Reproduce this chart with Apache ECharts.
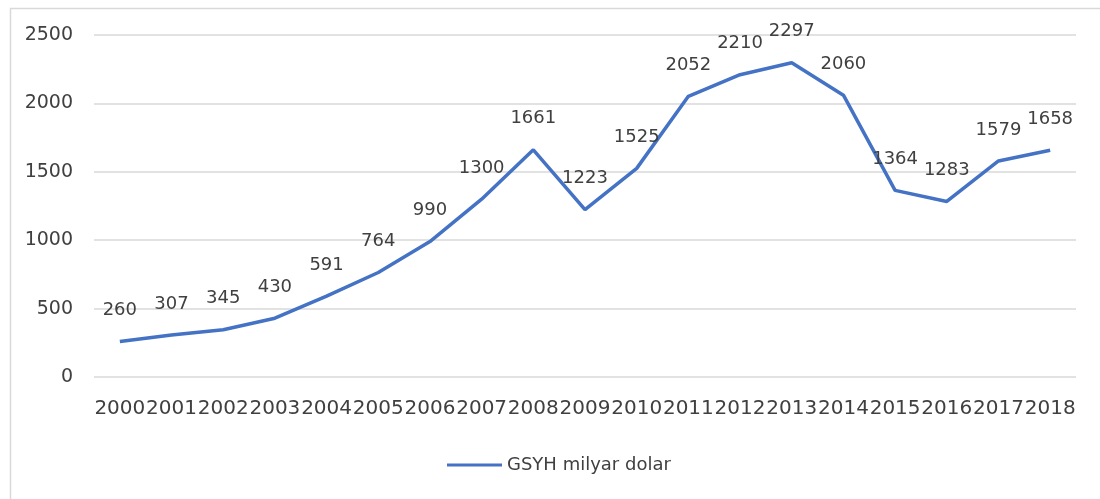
<!DOCTYPE html>
<html>
<head>
<meta charset="utf-8">
<script src="https://cdn.jsdelivr.net/npm/echarts@6/dist/echarts.min.js"></script>
<style>html,body{margin:0;padding:0;background:#fff}#c{width:1100px;height:499px}</style>
</head>
<body>
<div id="c"></div>
<script>
const categories = ['2000','2001','2002','2003','2004','2005','2006','2007','2008','2009','2010','2011','2012','2013','2014','2015','2016','2017','2018'];
const gsyh = [260,307,345,430,591,764,990,1300,1661,1223,1525,2052,2210,2297,2060,1364,1283,1579,1658];
const yTicks = [0,500,1000,1500,2000,2500];

const chart = echarts.init(document.getElementById('c'));
chart.setOption({
  animation: false,
  backgroundColor: '#fff',
  graphic: [{
    type: 'rect', left: 8, top: 6,
    shape: {width: 1100, height: 492},
    style: {fill: 'none', stroke: '#d9d9d9', lineWidth: 1.5},
    silent: true
  }],
  grid: {left: 94, right: 24, top: 35, bottom: 122, containLabel: false},
  legend: {
    left: 442, top: 451,
    itemWidth: 55, itemHeight: 3, itemGap: 6,
    icon: 'rect',
    textStyle: {fontFamily: 'DejaVu Sans', fontSize: 18, color: '#404040'},
    data: ['GSYH milyar dolar']
  },
  xAxis: {
    type: 'category',
    data: categories,
    boundaryGap: true,
    axisLine: {show: false},
    axisTick: {show: false},
    axisLabel: {interval: 0, margin: 22, fontFamily: 'DejaVu Sans', fontSize: 20, color: '#404040'}
  },
  yAxis: {
    type: 'value',
    min: yTicks[0], max: yTicks[yTicks.length-1], interval: 500,
    axisLine: {show: false},
    axisTick: {show: false},
    splitLine: {lineStyle: {color: '#d9d9d9', width: 1.5}},
    axisLabel: {margin: 21, fontFamily: 'DejaVu Sans', fontSize: 19, color: '#404040', formatter: v => String(v)}
  },
  series: [{
    name: 'GSYH milyar dolar',
    type: 'line',
    data: gsyh,
    showSymbol: true,
    symbol: 'circle',
    symbolSize: 0.1,
    lineStyle: {color: '#4472C4', width: 3.5},
    itemStyle: {color: '#4472C4'},
    label: {show: true, position: 'top', distance: 22, fontFamily: 'DejaVu Sans', fontSize: 18, color: '#404040'}
  }]
});
</script>
</body>
</html>
